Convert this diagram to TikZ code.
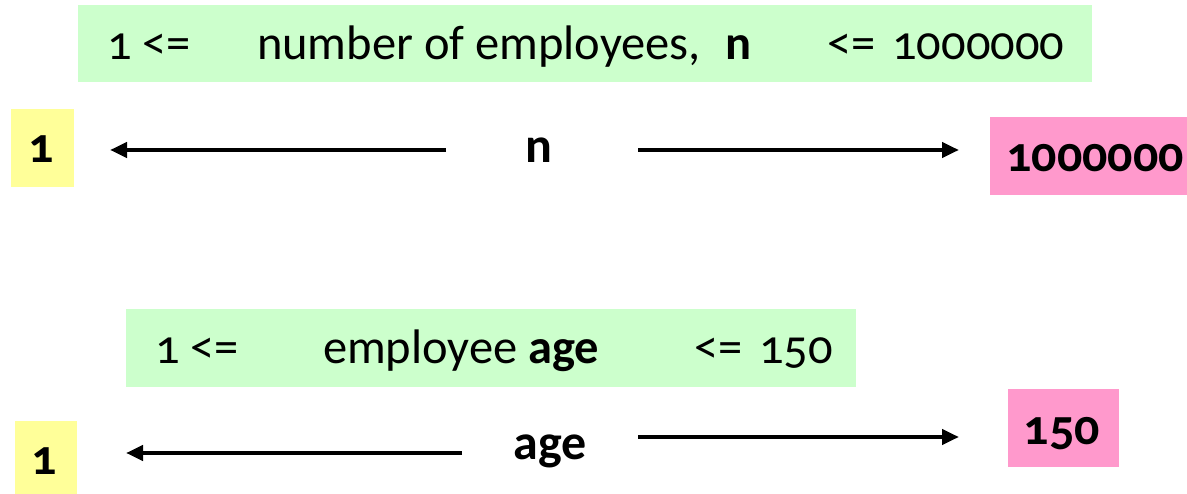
\documentclass[tikz,border=0pt]{standalone}
\usepackage{fontspec}
\setmainfont{Carlito}[Numbers=OldStyle]
\usetikzlibrary{arrows.meta}
\definecolor{lgreen}{HTML}{CCFFCC}
\definecolor{lyellow}{HTML}{FFFF99}
\definecolor{lpink}{HTML}{FF99CC}
\begin{document}
\begin{tikzpicture}[x=1pt,y=-1pt,
  every node/.style={inner sep=0pt, outer sep=0pt},
  box/.style={fill=#1, draw=none, anchor=north west},
  txt/.style={anchor=base west, font=\fontsize{48.5}{58}\selectfont},
  lbl/.style={anchor=base, font=\fontsize{50}{60}\selectfont\bfseries},
  arr/.style={line width=4.5pt, -{Triangle[length=17pt,width=15pt]}}]
\useasboundingbox (0,0) rectangle (1187,494);
% boxes
\node[box=lgreen, minimum width=1014pt, minimum height=77pt] (g1) at (78,5) {};
\node[box=lyellow, minimum width=63pt, minimum height=78pt] (y1) at (11,109) {};
\node[box=lpink, minimum width=197pt, minimum height=78pt] (p1) at (990,117) {};
\node[box=lgreen, minimum width=730pt, minimum height=78pt] (g2) at (126,309) {};
\node[box=lyellow, minimum width=62pt, minimum height=73pt] (y2) at (15,421) {};
\node[box=lpink, minimum width=111pt, minimum height=78pt] (p2) at (1008,389) {};
% top constraint text
\node[txt] (t1a) at (107,60) {1 <=};
\node[txt] (t1b) at (257,60) {number of employees,\hspace{0.5em}\textbf{n}};
\node[txt] (t1c) at (827,60) {<=\hspace{0.35em}1000000};
% top labels
\node[lbl] (one1) at (41,163) {1};
\node[lbl] (n) at (539,163) {n};
\node[lbl] (max1) at (1095,172) {1000000};
% bottom constraint text
\node[txt] (t2a) at (155,364) {1 <=};
\node[txt] (t2b) at (323,364) {employee \textbf{age}};
\node[txt] (t2c) at (694,364) {<=\hspace{0.35em}150};
% bottom labels
\node[lbl] (one2) at (44,475) {1};
\node[lbl] (age) at (550,460) {age};
\node[lbl] (max2) at (1062,444) {150};
% arrow ends
\coordinate (a1s) at (446,150);
\coordinate (a1e) at (110,150);
\coordinate (a2s) at (638,150);
\coordinate (a2e) at (959,150);
\coordinate (a3s) at (462,453);
\coordinate (a3e) at (126,453);
\coordinate (a4s) at (638,437);
\coordinate (a4e) at (959,437);
\draw[arr] (a1s) -- (a1e);
\draw[arr] (a2s) -- (a2e);
\draw[arr] (a3s) -- (a3e);
\draw[arr] (a4s) -- (a4e);
\end{tikzpicture}
\end{document}
